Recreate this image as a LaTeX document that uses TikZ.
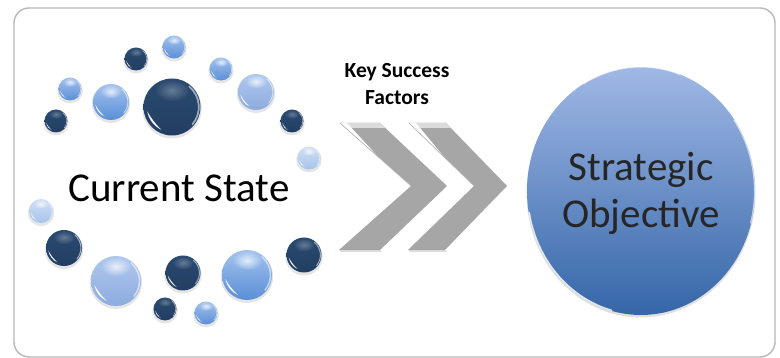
\documentclass[tikz,border=0pt]{standalone}
\usepackage{fontspec}
\setmainfont{Carlito}
\usetikzlibrary{shapes.geometric,fadings}
\definecolor{dkT}{HTML}{2A4A70}\definecolor{dkB}{HTML}{223E62}
\definecolor{mdT}{HTML}{A3C2EE}\definecolor{mdB}{HTML}{5A8FD6}
\definecolor{ltT}{HTML}{B0C8EE}\definecolor{ltB}{HTML}{8DABDF}
\definecolor{paT}{HTML}{D2E0F5}\definecolor{paB}{HTML}{A6C3EA}
\definecolor{chev}{HTML}{A6A6A6}
\definecolor{objT}{HTML}{A0B8E5}\definecolor{objB}{HTML}{3566A8}
\tikzfading[name=glowlight,inner color=transparent!25,outer color=transparent!100]
\tikzfading[name=glowdark,inner color=transparent!72,outer color=transparent!100]
\tikzset{
  frame/.style={draw=black!28,line width=1.4pt,rounded corners=15pt,fill=white},
  chevronshape/.style={fill=chev,draw=none},
  bevel/.style={fill=white,draw=none},
  bubblebody/.style={circle,inner sep=0pt,draw=none},
  label/.style={inner sep=0pt,text=black!90,align=center},
  rim/.style={white,line cap=round},
}
% name, x, y (down), r, top colour, bottom colour, fading
\newcommand{\bubl}[7]{%
  \pgfmathsetmacro\yy{358-#3}\pgfmathsetmacro\rr{#4}%
  \fill[black,opacity=.10] (#2,\yy-1.8) circle[radius=\rr+1.2];
  \node[bubblebody,minimum size=2*\rr pt,top color=#5,bottom color=#6] (#1) at (#2,\yy) {};
  \fill[white,path fading=#7] (#2,\yy+.58*\rr) ellipse[x radius=.6*\rr,y radius=.38*\rr];
  \draw[rim,opacity=.55,line width=.06*\rr pt] ([shift={(-40:.94*\rr)}]#2,\yy) arc[start angle=-40,end angle=50,radius=.94*\rr];
  \fill[white,opacity=.95] ([shift={(190:.88*\rr)}]#2,\yy) arc[start angle=190,end angle=245,radius=.88*\rr] to[bend left=8] cycle;
}
\begin{document}
\begin{tikzpicture}[x=1pt,y=1pt]
\useasboundingbox (0,0) rectangle (780,358);
\fill[white] (0,0) rectangle (780,358);
\draw[frame] (14,1) rectangle (775,350);
% bubbles
\bubl{b1}{56}{121}{11.5}{dkT}{dkB}{glowdark}
\bubl{b2}{70}{89}{11.5}{mdT}{mdB}{glowlight}
\bubl{b3}{111}{102}{18}{mdT}{mdB}{glowlight}
\bubl{b4}{172}{107}{28.5}{dkT}{dkB}{glowdark}
\bubl{b5}{136}{59}{11.5}{dkT}{dkB}{glowdark}
\bubl{b6}{174}{47}{11.5}{mdT}{mdB}{glowlight}
\bubl{b7}{221}{69}{11.5}{mdT}{mdB}{glowlight}
\bubl{b8}{256}{92}{18}{ltT}{ltB}{glowlight}
\bubl{b9}{292}{121}{11.5}{dkT}{dkB}{glowdark}
\bubl{b10}{309}{158}{11.5}{paT}{paB}{glowlight}
\bubl{b11}{41}{211}{12}{paT}{paB}{glowlight}
\bubl{b12}{64}{248}{18}{dkT}{dkB}{glowdark}
\bubl{b13}{116}{281}{25}{ltT}{ltB}{glowlight}
\bubl{b14}{183}{273}{17.5}{dkT}{dkB}{glowdark}
\bubl{b15}{165}{309}{11.5}{dkT}{dkB}{glowdark}
\bubl{b16}{206}{313}{11.5}{mdT}{mdB}{glowlight}
\bubl{b17}{247}{275}{25}{mdT}{mdB}{glowlight}
\bubl{b18}{304}{255}{17.5}{dkT}{dkB}{glowdark}
% text
\node[label,text=black,font=\fontsize{41}{47}\selectfont] (cur) at (179,170) {Current State};
\node[label,text=black,font=\fontsize{21.5}{27.5}\selectfont\bfseries] (ksf) at (397,274) {Key Success\\Factors};
% chevrons
\fill[chevronshape] (340,235) -- (380,235) -- (447,172) -- (380,108) -- (339,108) -- (411,172) -- cycle;
\fill[chevronshape] (409,235) -- (446,235) -- (507,172) -- (445,108) -- (408,108) -- (474,172) -- cycle;
\fill[black,opacity=.14] (339,108) -- (380,108) -- (382,106) -- (341,106) -- cycle;
\fill[black,opacity=.14] (408,108) -- (445,108) -- (447,106) -- (410,106) -- cycle;
\fill[black!14] (340,235) -- (380,235) -- (385,230) -- (350,230) -- cycle;
\fill[black!14] (409,235) -- (446,235) -- (451,230) -- (419,230) -- cycle;
\fill[bevel] (340,235) -- (347,235) -- (405,172) -- (411,172) -- cycle;
\fill[bevel] (409,235) -- (416,235) -- (468,172) -- (474,172) -- cycle;
\draw[black!30,line width=.6pt] (340,235) -- (411,172);
\draw[black!30,line width=.6pt] (409,235) -- (474,172);
% objective
\fill[black,opacity=.12] (641,165) ellipse[x radius=114.5,y radius=124.5];
\node[ellipse,inner sep=0pt,minimum width=228pt,minimum height=248pt,top color=objT,bottom color=objB,draw=none] (obj) at (641,167) {};
\draw[rim,opacity=.6,line width=1.2pt] (641,167) ++(120:114 and 124) arc[start angle=120,end angle=70,x radius=114,y radius=124];
\draw[rim,opacity=.85,line width=1.4pt] (641,167) ++(190:113.5 and 123.5) arc[start angle=190,end angle=255,x radius=113.5,y radius=123.5];
\draw[rim,opacity=.6,line width=1.2pt] (641,167) ++(35:113.5 and 123.5) arc[start angle=35,end angle=-15,x radius=113.5,y radius=123.5];
\node[label,text=black!85,font=\fontsize{41}{47}\selectfont] (objtext) at (641,165) {Strategic\\Objective};
\end{tikzpicture}
\end{document}
